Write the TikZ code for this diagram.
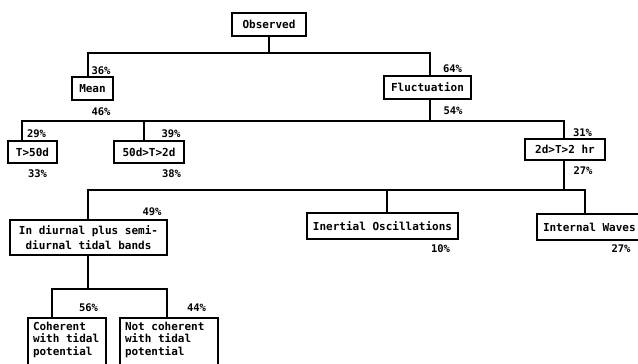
\documentclass[tikz,border=0pt]{standalone}
\usepackage{fontspec}
\setmainfont{DejaVu Sans Mono}[WordSpace={1,0,0}]
\begin{document}
\begin{tikzpicture}[x=1pt,y=-1pt,
  box/.style={draw,line width=2pt,inner sep=0pt,font=\fontsize{11}{13}\selectfont\bfseries},
  conn/.style={line width=2pt,line cap=rect,line join=miter},
  pct/.style={inner sep=0pt,font=\fontsize{10.5}{12}\selectfont\bfseries}]
\useasboundingbox (0,0) rectangle (638,364);
\clip (0,0) rectangle (638,364);
% boxes
\node[box,minimum width=74,minimum height=23] (obs) at (269,24.5) {Observed};
\node[box,minimum width=41,minimum height=23] (mean) at (92.5,88.5) {Mean};
\node[box,minimum width=87,minimum height=23] (fluc) at (427.5,87.5) {Fluctuation};
\node[box,minimum width=49,minimum height=22] (t50) at (32.5,152) {T>50d};
\node[box,minimum width=70,minimum height=22] (t502) at (149,152) {50d>T>2d};
\node[box,minimum width=80,minimum height=21] (t2h) at (565,149.5) {2d>T>2 hr};
\node[box,minimum width=157,minimum height=35,align=center,
  font=\fontsize{11}{14.5}\selectfont\bfseries] (diur) at (88.5,237.5) {In diurnal plus semi-\\diurnal tidal bands};
\node[box,minimum width=151,minimum height=26] (iner) at (382.5,226) {Inertial Oscillations};
\node[box,anchor=west,minimum width=120,minimum height=26,inner xsep=6pt,text width=108,align=flush left] (intw) at (536,227) {Internal Waves};
\node[box,anchor=north west,text width=68,align=flush left,inner xsep=5pt,inner ysep=4pt,
  font=\fontsize{11}{12.5}\selectfont\bfseries] (coh) at (27,317) {Coherent\\with tidal\\potential\rule[-20pt]{0pt}{0pt}};
\node[box,anchor=north west,text width=88,align=flush left,inner xsep=5pt,inner ysep=4pt,
  font=\fontsize{11}{12.5}\selectfont\bfseries] (ncoh) at (119,317) {Not coherent\\with tidal\\potential\rule[-20pt]{0pt}{0pt}};
% junctions
\coordinate (a1) at (88,53); \coordinate (a2) at (430,53);
\coordinate (b1) at (22,121); \coordinate (b2) at (144,121); \coordinate (b3) at (564,121);
\coordinate (c1) at (88,190); \coordinate (c2) at (387,190); \coordinate (c3) at (585,190);
\coordinate (d1) at (52,289); \coordinate (d2) at (167,289);
% connectors
\draw[conn] (obs.south) -- (obs.south |- a1);
\draw[conn] (a1 |- mean.north) -- (a1) -- (a2) -- (a2 |- fluc.north);
\draw[conn] (fluc.south -| a2) -- (a2 |- b1);
\draw[conn] (b1 |- t50.north) -- (b1) -- (b3) -- (b3 |- t2h.north);
\draw[conn] (b2) -- (b2 |- t502.north);
\draw[conn] (t2h.south -| b3) -- (b3 |- c1);
\draw[conn] (c1 |- diur.north) -- (c1) -- (c3) -- (c3 |- intw.north);
\draw[conn] (c2) -- (c2 |- iner.north);
\draw[conn] (diur.south -| c1) -- (c1 |- d1);
\draw[conn] (d1 |- coh.north) -- (d1) -- (d2) -- (d2 |- ncoh.north);
% percentages
\node[pct] (p36) at (101,71) {36\%};
\node[pct] (p46) at (101,112) {46\%};
\node[pct] (p64) at (452.5,68.5) {64\%};
\node[pct] (p54) at (453,111) {54\%};
\node[pct] (p29) at (36.5,134) {29\%};
\node[pct] (p33) at (37.5,173.5) {33\%};
\node[pct] (p39) at (171,133.5) {39\%};
\node[pct] (p38) at (171.5,173.5) {38\%};
\node[pct] (p31) at (582.5,132.5) {31\%};
\node[pct] (p27a) at (583,171) {27\%};
\node[pct] (p49) at (152,212) {49\%};
\node[pct] (p10) at (440.5,249) {10\%};
\node[pct] (p27b) at (621,249) {27\%};
\node[pct] (p56) at (88.5,307.5) {56\%};
\node[pct] (p44) at (196.5,307.5) {44\%};
\end{tikzpicture}
\end{document}
